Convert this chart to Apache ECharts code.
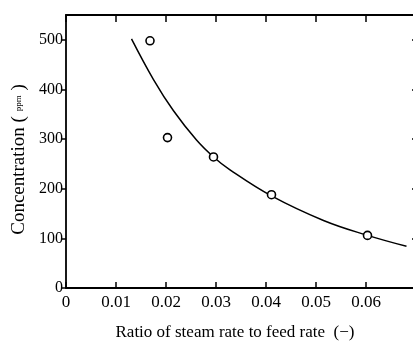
<!DOCTYPE html>
<html>
<head>
<meta charset="utf-8">
<script src="https://cdn.jsdelivr.net/npm/echarts@6/dist/echarts.min.js"></script>
<style>html,body{margin:0;padding:0;background:#fff}#c{width:413px;height:341px}</style>
</head>
<body>
<div id="c"></div>
<script>
// Measured points (ratio, ppm)
var pointX = [0.0168, 0.0203, 0.0295, 0.0411, 0.0603];
var pointY = [498, 303, 264, 188, 106];
// Fitted curve
var curveX = [0.0131, 0.0175, 0.0215, 0.0261, 0.0295, 0.0328, 0.0410, 0.0515, 0.0603, 0.0681];
var curveY = [502, 420, 357, 298, 264, 238, 186, 136, 106, 84];
var xTicks = [0, 0.01, 0.02, 0.03, 0.04, 0.05, 0.06];
var yTicks = [0, 100, 200, 300, 400, 500];

var FONT = '"Liberation Serif", serif';
var chart = echarts.init(document.getElementById('c'), null, {renderer: 'canvas'});
function zip(a, b) { return a.map(function (v, i) { return [v, b[i]]; }); }
var axisLine = {show: true, onZero: false, lineStyle: {color: '#000', width: 1.8}};
chart.setOption({
  animation: false,
  backgroundColor: '#fff',
  grid: {left: 66, top: 15, right: -3, bottom: 53, outerBoundsMode: 'none', containLabel: false},
  xAxis: [{
    type: 'value', min: 0, max: 0.07, interval: 0.01, position: 'bottom',
    name: 'Ratio of steam rate to feed rate  (\u2212)', nameLocation: 'middle', nameGap: 36,
    nameTextStyle: {fontFamily: FONT, fontSize: 17, color: '#000', padding: [0, 12, 0, 0]},
    axisLine: axisLine,
    axisTick: {show: true, inside: true, length: 6, lineStyle: {color: '#000', width: 1.5}},
    splitLine: {show: false},
    axisLabel: {
      color: '#000', fontFamily: FONT, fontSize: 17, margin: 6,
      formatter: function (v) { return xTicks.indexOf(+v.toFixed(3)) >= 0 ? String(+v.toFixed(2)) : ''; }
    }
  }, {
    type: 'value', min: 0, max: 0.07, interval: 0.01, position: 'top',
    axisLine: axisLine,
    axisTick: {show: true, inside: true, length: 7, lineStyle: {color: '#000', width: 1.5}},
    axisLabel: {show: false}, splitLine: {show: false}
  }],
  yAxis: [{
    type: 'value', min: 0, max: 550, interval: 100, position: 'left',
    name: 'Concentration ( {s|ppm} )', nameLocation: 'middle', nameGap: 36, nameRotate: 90,
    nameTextStyle: {fontFamily: FONT, fontSize: 19, color: '#000', padding: [0, 16, 0, 0],
      rich: {s: {fontFamily: FONT, fontSize: 9, color: '#000'}}},
    axisLine: axisLine,
    axisTick: {show: true, inside: false, length: 4, lineStyle: {color: '#000', width: 1.5}},
    splitLine: {show: false},
    axisLabel: {
      color: '#000', fontFamily: FONT, fontSize: 16, margin: 3, showMaxLabel: false,
      formatter: function (v) { return yTicks.indexOf(v) >= 0 ? String(v) : ''; }
    }
  }, {
    type: 'value', min: 0, max: 550, interval: 100, position: 'right',
    axisLine: axisLine,
    axisTick: {show: true, inside: true, length: 4, lineStyle: {color: '#000', width: 1.5}},
    axisLabel: {show: false}, splitLine: {show: false}
  }],
  series: [{
    type: 'line', data: zip(curveX, curveY), smooth: 0.4, symbol: 'none',
    lineStyle: {color: '#000', width: 1.5}, z: 2
  }, {
    type: 'scatter', data: zip(pointX, pointY), symbol: 'circle', symbolSize: 8,
    itemStyle: {color: '#fff', borderColor: '#000', borderWidth: 1.6, opacity: 1}, z: 3
  }]
});
</script>
</body>
</html>
